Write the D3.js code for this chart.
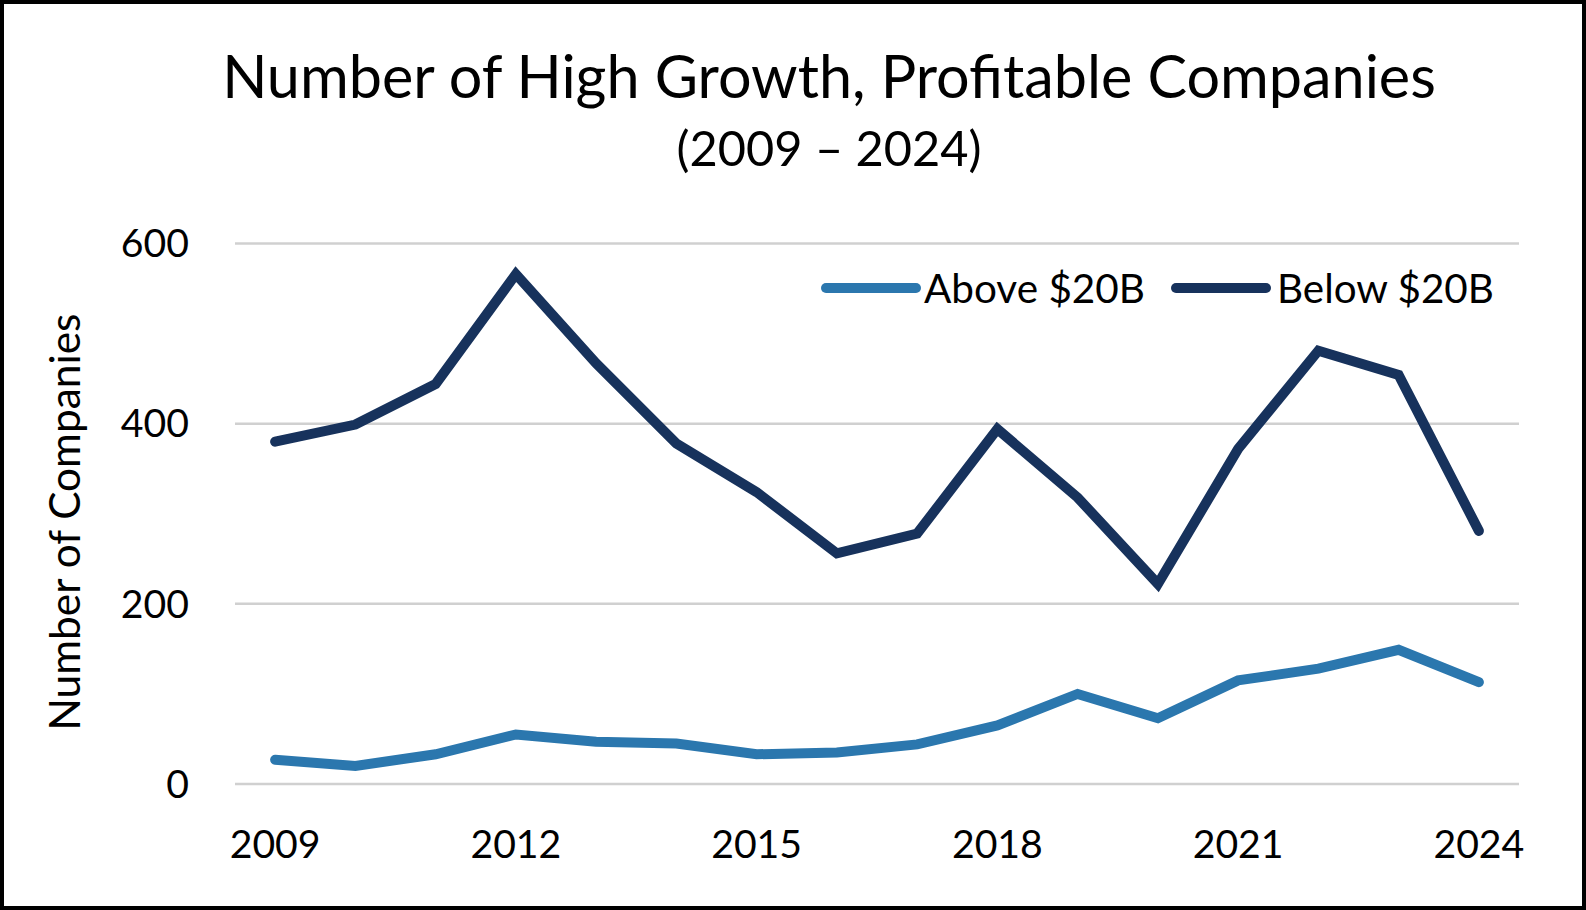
<!DOCTYPE html>
<html>
<head>
<meta charset="utf-8">
<script src="https://cdn.jsdelivr.net/npm/d3@7"></script>
<style>
  body { margin: 0; background: #fff; }
  svg { display: block; font-family: Lato, "Open Sans", sans-serif; }
</style>
</head>
<body>
<svg id="chart"></svg>
<script>
const years = d3.range(2009, 2025);
const tickYears = [2009, 2012, 2015, 2018, 2021, 2024];
const yTicks = [0, 200, 400, 600];
const above = [27, 20, 33, 55, 47, 45, 33, 35, 44, 65, 100, 73, 115, 128, 149, 113];
const below = [380, 399, 444, 566, 467, 378, 324, 256, 278, 394, 318, 222, 372, 481, 454, 281];
const seriesNames = ["Above $20B", "Below $20B"];
const colors = ["#2B77AE", "#17325C"];

const width = 1586;
const height = 910;
const margin = { top: 243.5, left: 235, bottom: 126, right: 67 };

const svg = d3.select("#chart").attr("width", width).attr("height", height);

svg.append("rect")
  .attr("x", 2).attr("y", 2)
  .attr("width", width - 4).attr("height", height - 4)
  .attr("fill", "#fff").attr("stroke", "#000").attr("stroke-width", 4);

// shrink or grow the font so a text takes the same width as in the picture
function fit(sel, target) {
  const w = sel.node().getComputedTextLength();
  const fs = parseFloat(sel.attr("font-size"));
  sel.attr("font-size", fs * target / w);
}

const x = d3.scalePoint()
  .domain(years)
  .range([margin.left, width - margin.right])
  .padding(0.5);

const y = d3.scaleLinear()
  .domain([0, 600])
  .range([height - margin.bottom, margin.top]);

// gridlines
svg.append("g")
  .selectAll("line")
  .data(yTicks)
  .join("line")
  .attr("x1", margin.left)
  .attr("x2", width - margin.right)
  .attr("y1", (d) => y(d))
  .attr("y2", (d) => y(d))
  .attr("stroke", "#d0d0d0")
  .attr("stroke-width", 2.5);

// y tick labels
const yLab = svg.append("g")
  .selectAll("text")
  .data(yTicks)
  .join("text")
  .attr("x", 189)
  .attr("y", (d) => y(d))
  .attr("dy", "0.35em")
  .attr("text-anchor", "end")
  .attr("font-size", 40)
  .attr("fill", "#000")
  .text((d) => d);

// x tick labels
const xLab = svg.append("g")
  .selectAll("text")
  .data(tickYears)
  .join("text")
  .attr("x", (d) => x(d))
  .attr("y", 858)
  .attr("text-anchor", "middle")
  .attr("font-size", 40)
  .attr("fill", "#000")
  .text((d) => d);

const tickSize = 40 * 91 / xLab.filter((d) => d === 2009).node().getComputedTextLength();
xLab.attr("font-size", tickSize);
yLab.attr("font-size", tickSize);

// y axis title
const yTitle = svg.append("text")
  .attr("transform", "translate(80,522) rotate(-90)")
  .attr("text-anchor", "middle")
  .attr("font-size", 40)
  .attr("fill", "#000")
  .text("Number of Companies");
fit(yTitle, 417);

// title
const title = svg.append("text")
  .attr("x", 829).attr("y", 98)
  .attr("text-anchor", "middle")
  .attr("font-size", 56)
  .attr("fill", "#000")
  .text("Number of High Growth, Profitable Companies");
fit(title, 1214);

const sub = svg.append("text")
  .attr("x", 829).attr("y", 166)
  .attr("text-anchor", "middle")
  .attr("font-size", 48)
  .attr("fill", "#000")
  .text("(2009 \u2013 2024)");
fit(sub, 305);

// lines
const line = d3.line()
  .x((d, i) => x(years[i]))
  .y((d) => y(d));

[above, below].forEach((vals, i) => {
  svg.append("path")
    .datum(vals)
    .attr("fill", "none")
    .attr("stroke", colors[i])
    .attr("stroke-width", 10)
    .attr("stroke-linejoin", "miter")
    .attr("stroke-linecap", "round")
    .attr("d", line);
});

// legend
const legendX = [826, 1176];
const legendText = [924, 1277];
const legendW = [221, 217];
seriesNames.forEach((name, i) => {
  svg.append("line")
    .attr("x1", legendX[i]).attr("x2", legendX[i] + 90)
    .attr("y1", 288).attr("y2", 288)
    .attr("stroke", colors[i])
    .attr("stroke-width", 10)
    .attr("stroke-linecap", "round");
  const t = svg.append("text")
    .attr("x", legendText[i]).attr("y", 303)
    .attr("font-size", 40)
    .attr("fill", "#000")
    .text(name);
  fit(t, legendW[i]);
});
</script>
</body>
</html>
